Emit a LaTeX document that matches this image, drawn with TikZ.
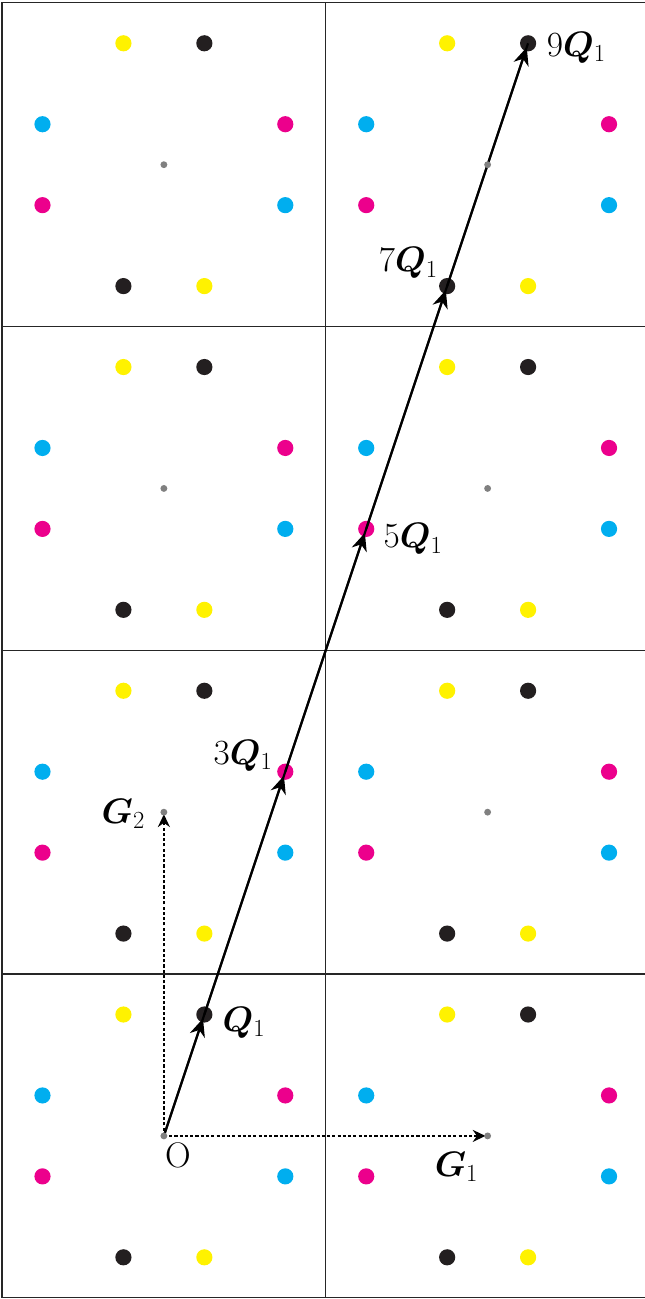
\documentclass[tikz,border=0pt]{standalone}
\usepackage{bm}
\usetikzlibrary{arrows.meta,calc}
\definecolor{cy}{RGB}{0,174,239}
\definecolor{mg}{RGB}{236,0,140}
\definecolor{yl}{RGB}{255,242,0}
\definecolor{bk}{RGB}{35,31,32}
\definecolor{gr}{RGB}{128,128,128}
\begin{document}
\begin{tikzpicture}[x=1cm,y=1cm,
  cdot/.style={circle,fill=#1,draw=none,inner sep=0pt,minimum size=0.4cm},
  gdot/.style={circle,fill=gr,draw=none,inner sep=0pt,minimum size=0.17cm},
  gridline/.style={line width=0.8pt,draw=black!85},
  mainline/.style={line width=1.5pt,draw=black},
  mainarrow/.style={line width=1.5pt,draw=black,-{Stealth[length=12.5pt,width=11pt,inset=4pt]},shorten >=3pt},
  basis/.style={line width=1.2pt,dash pattern=on 2.2pt off 1.5pt,-{Stealth[length=9pt,width=8.5pt,inset=3pt]},shorten >=1.5pt},
  lbl/.style={inner sep=0pt,font=\fontsize{25}{30}\selectfont}]
\useasboundingbox (-4.05,-4.03) rectangle (11.885,28.07);
\begin{scope}
\clip (-4.05,-4.03) rectangle (11.885,28.07);
\draw[gridline] (-4,-4) rectangle (12,28);
\draw[gridline] (4,-4) -- (4,28);
\foreach \yy in {4,12,20} \draw[gridline] (-4,\yy) -- (12,\yy);
\end{scope}
% lattice points
\foreach \cx in {0,8} {
  \foreach \cy in {0,8,16,24} {
    \node[cdot=yl] (y1-\cx-\cy) at (\cx-1,\cy+3) {};
    \node[cdot=bk] (b1-\cx-\cy) at (\cx+1,\cy+3) {};
    \node[cdot=cy] (c1-\cx-\cy) at (\cx-3,\cy+1) {};
    \node[cdot=mg] (m1-\cx-\cy) at (\cx+3,\cy+1) {};
    \node[cdot=mg] (m2-\cx-\cy) at (\cx-3,\cy-1) {};
    \node[cdot=cy] (c2-\cx-\cy) at (\cx+3,\cy-1) {};
    \node[cdot=bk] (b2-\cx-\cy) at (\cx-1,\cy-3) {};
    \node[cdot=yl] (y2-\cx-\cy) at (\cx+1,\cy-3) {};
  }
}
\coordinate (O) at (0,0);
\coordinate (G1) at (8,0);
\coordinate (G2) at (0,8);
\coordinate (Q1) at (1,3);
\coordinate (Q3) at (3,9);
\coordinate (Q5) at (5,15);
\coordinate (Q7) at (7,21);
\coordinate (Q9) at (9,27);
% basis vectors
\draw[basis] (O) -- (G1);
\draw[basis] (O) -- (G2);
% Q1 line
\draw[mainline] (O) -- (Q9);
\draw[mainarrow] (O) -- (Q1);
\draw[mainarrow] (Q1) -- (Q3);
\draw[mainarrow] (Q3) -- (Q5);
\draw[mainarrow] (Q5) -- (Q7);
\draw[mainarrow] (Q7) -- (Q9);
% cell centres
\foreach \cx in {0,8} {
  \foreach \cy in {0,8,16,24} {
    \node[gdot] (g-\cx-\cy) at (\cx,\cy) {};
  }
}
% labels
\node[lbl] (lO) at ($(O)+(0.35,-0.47)$) {O};
\node[lbl] (lG1) at ($(G1)+(-0.77,-0.77)$) {$\bm{G}_1$};
\node[lbl] (lG2) at ($(G2)+(-1.0,-0.05)$) {$\bm{G}_2$};
\node[lbl] (lQ1) at ($(Q1)+(0.98,-0.2)$) {$\bm{Q}_1$};
\node[lbl] (lQ3) at ($(Q3)+(-1.04,0.4)$) {$3\bm{Q}_1$};
\node[lbl] (lQ5) at ($(Q5)+(1.16,-0.25)$) {$5\bm{Q}_1$};
\node[lbl] (lQ7) at ($(Q7)+(-0.96,0.57)$) {$7\bm{Q}_1$};
\node[lbl] (lQ9) at ($(Q9)+(1.19,-0.1)$) {$9\bm{Q}_1$};
\end{tikzpicture}
\end{document}
